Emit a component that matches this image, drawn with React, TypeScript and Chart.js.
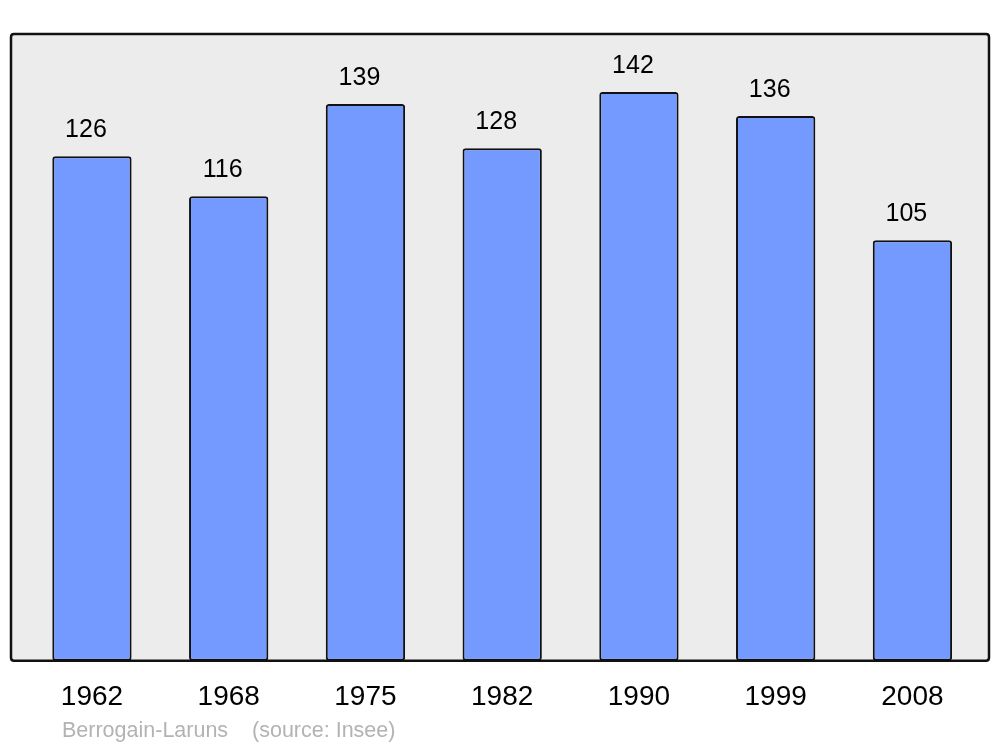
import React, { useEffect, useRef } from "react";
import { Chart, registerables } from "chart.js";

Chart.register(...registerables);

const years = ["1962", "1968", "1975", "1982", "1990", "1999", "2008"];
const population = [126, 116, 139, 128, 142, 136, 105];
const footerText = "Berrogain-Laruns    (source: Insee)";

const FONT = "'Liberation Sans', Arial, sans-serif";

export default function App() {
  const ref = useRef<HTMLCanvasElement>(null);

  useEffect(() => {
    if (!ref.current) return;

    const roundRectPath = (ctx: CanvasRenderingContext2D, x: number, y: number, w: number, h: number, r: number) => {
      ctx.beginPath();
      ctx.moveTo(x + r, y);
      ctx.lineTo(x + w - r, y);
      ctx.quadraticCurveTo(x + w, y, x + w, y + r);
      ctx.lineTo(x + w, y + h - r);
      ctx.quadraticCurveTo(x + w, y + h, x + w - r, y + h);
      ctx.lineTo(x + r, y + h);
      ctx.quadraticCurveTo(x, y + h, x, y + h - r);
      ctx.lineTo(x, y + r);
      ctx.quadraticCurveTo(x, y, x + r, y);
      ctx.closePath();
    };

    const boxPlugin = {
      id: "boxPlugin",
      beforeDatasetsDraw(chart: any) {
        const { ctx, chartArea: a } = chart;
        ctx.save();
        roundRectPath(ctx, a.left, a.top, a.right - a.left, a.bottom - a.top, 3);
        ctx.fillStyle = "#ececec";
        ctx.fill();
        ctx.restore();
      },
      afterDatasetsDraw(chart: any) {
        const { ctx, chartArea: a } = chart;
        ctx.save();
        roundRectPath(ctx, a.left, a.top, a.right - a.left, a.bottom - a.top, 3);
        ctx.strokeStyle = "#111111";
        ctx.lineWidth = 2.5;
        ctx.stroke();

        const meta = chart.getDatasetMeta(0);
        ctx.fillStyle = "#000000";
        ctx.font = `25px ${FONT}`;
        ctx.textAlign = "center";
        ctx.textBaseline = "alphabetic";
        meta.data.forEach((bar: any, i: number) => {
          ctx.fillText(String(population[i]), bar.x - 6, bar.y - 19.5);
        });

        ctx.fillStyle = "#b3b3b3";
        ctx.font = `21.5px ${FONT}`;
        ctx.textAlign = "left";
        ctx.fillText(footerText, 62, 737);
        ctx.restore();
      },
    };

    const chart = new Chart(ref.current, {
      type: "bar",
      data: {
        datasets: [
          {
            data: population.map((v, i) => ({ x: i, y: v })),
            backgroundColor: "#7499ff",
            borderColor: "#111111",
            borderWidth: 2,
            borderRadius: 3,
            borderSkipped: false,
            barPercentage: 0.58,
            categoryPercentage: 1,
          },
        ],
      },
      options: {
        animation: false,
        responsive: false,
        layout: { padding: { top: 34, left: 11, right: 11, bottom: 12.6 } },
        plugins: { legend: { display: false }, tooltip: { enabled: false }, title: { display: false } },
        scales: {
          x: {
            type: "linear",
            offset: false,
            min: -0.592,
            max: 6.56,
            grid: { display: false, drawTicks: false },
            border: { display: false },
            ticks: {
              stepSize: 1,
              includeBounds: false,
              autoSkip: false,
              maxRotation: 0,
              padding: 20,
              color: "#000000",
              font: { size: 28, family: FONT },
              callback: (v: any) => (Number.isInteger(v) && years[v] !== undefined ? years[v] : ""),
            },
          },
          y: {
            min: 0,
            max: 156.5,
            display: false,
          },
        },
      },
      plugins: [boxPlugin],
    });

    return () => chart.destroy();
  }, []);

  return (
    <div style={{ position: "absolute", left: 0, top: 0, width: 1000, height: 747, background: "#ffffff" }}>
      <canvas ref={ref} width={1000} height={747} />
    </div>
  );
}
